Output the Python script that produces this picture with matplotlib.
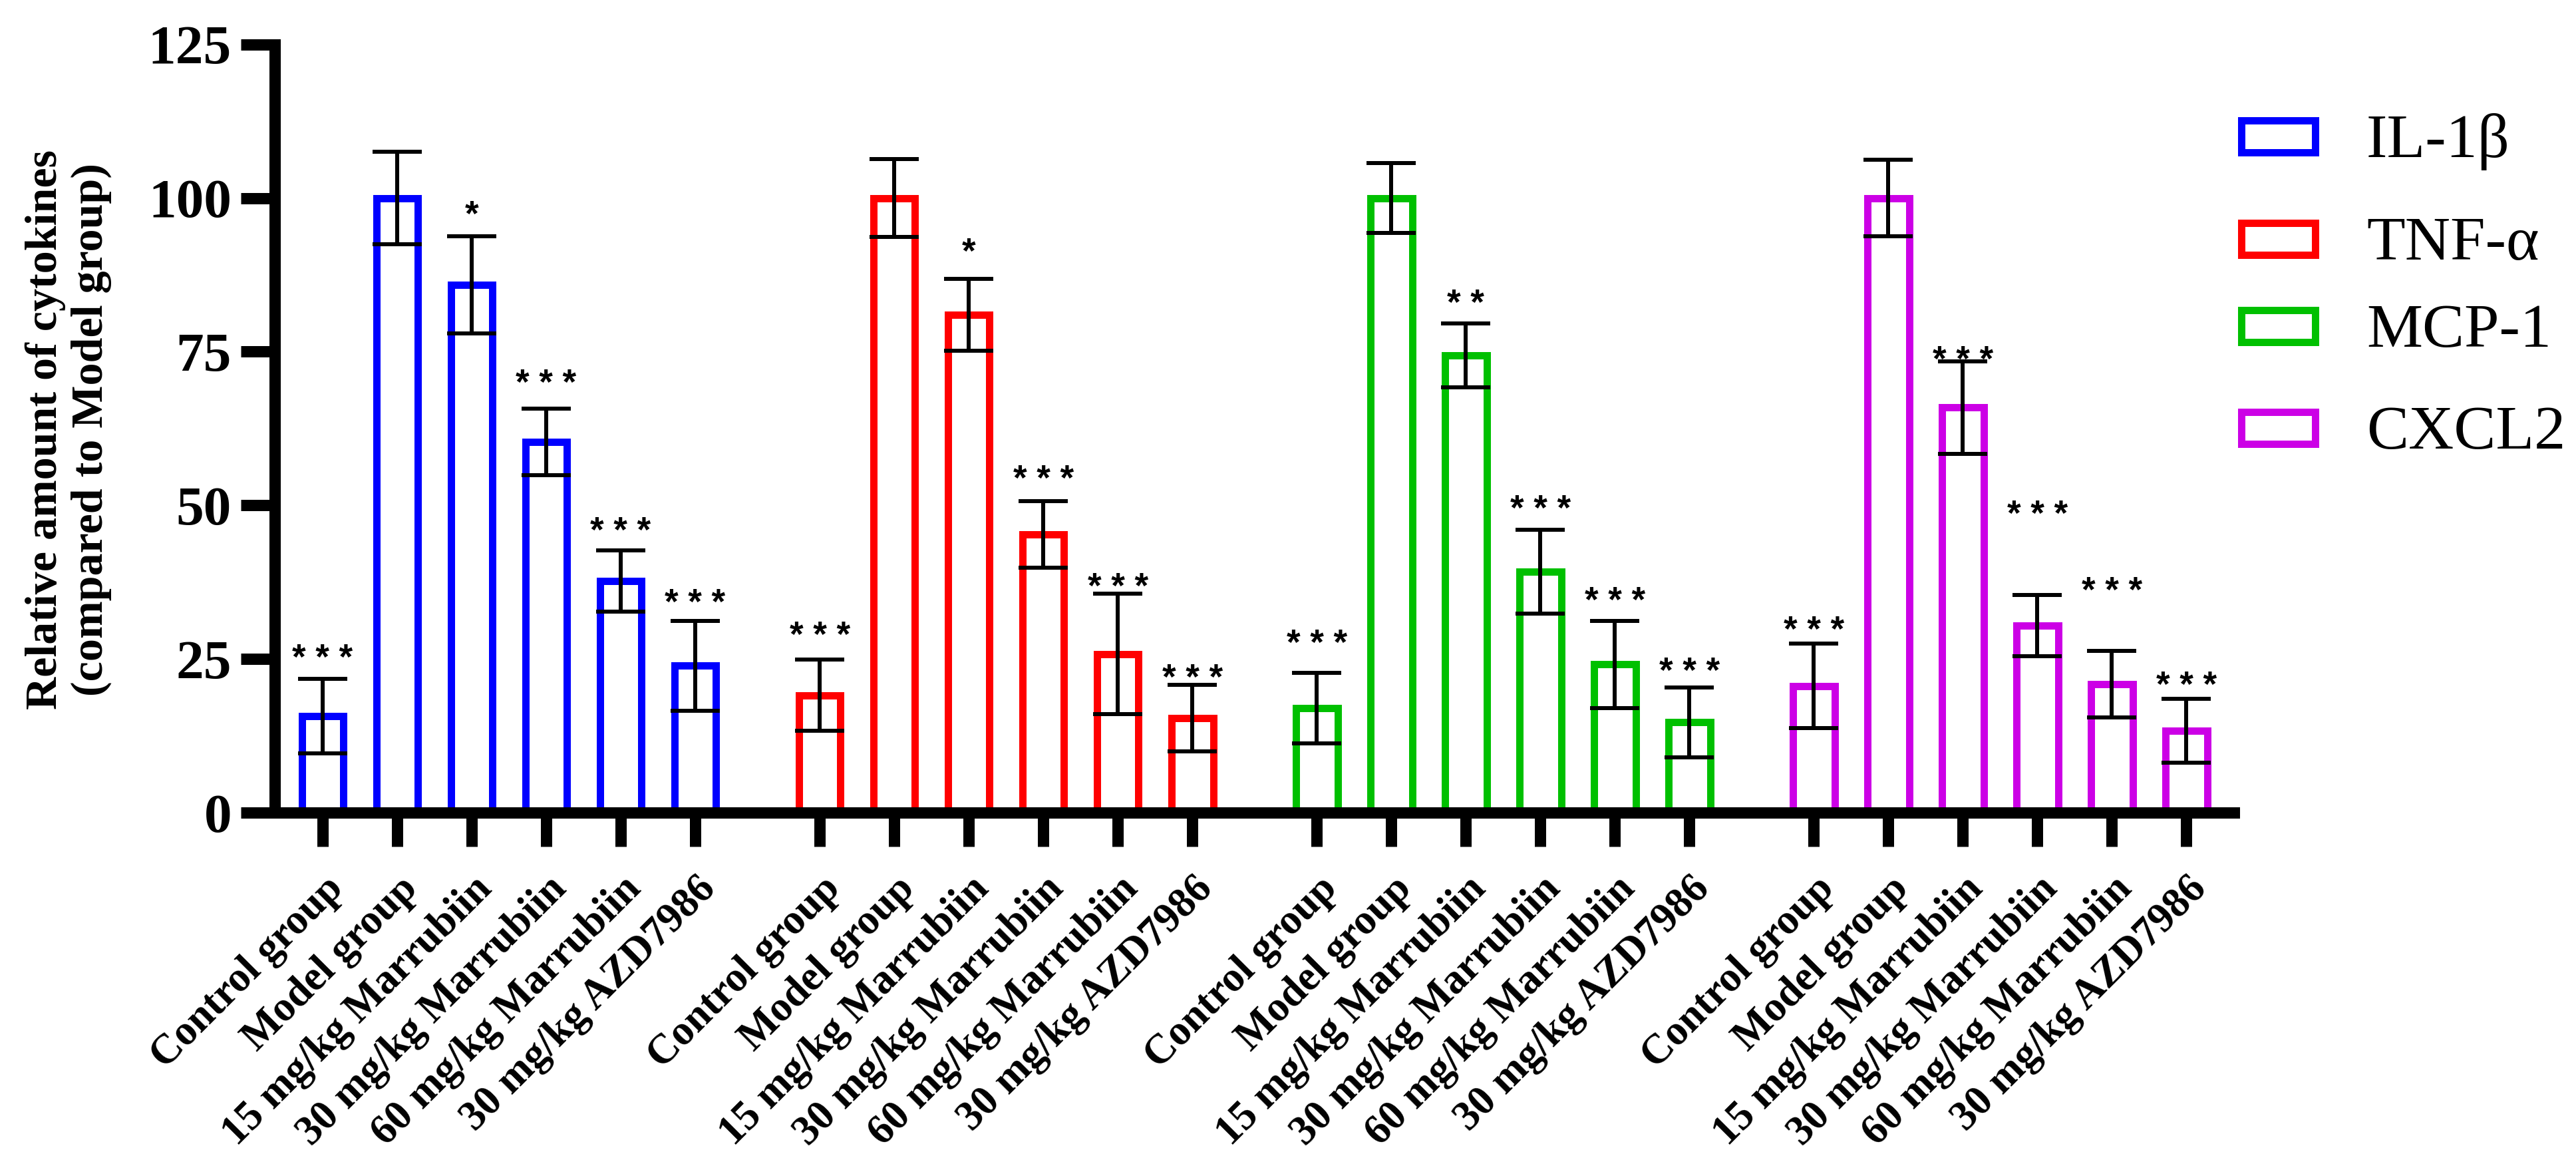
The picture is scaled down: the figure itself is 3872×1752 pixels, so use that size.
import numpy as np
import matplotlib
matplotlib.use("Agg")
import matplotlib.pyplot as plt
from matplotlib.patches import Rectangle
from matplotlib.transforms import ScaledTranslation

# ---------------- data ----------------
groups = ["Control group", "Model group", "15 mg/kg Marrubiin",
          "30 mg/kg Marrubiin", "60 mg/kg Marrubiin", "30 mg/kg AZD7986"]
series = ["IL-1\u03b2", "TNF-\u03b1", "MCP-1", "CXCL2"]

il1b_mean = [15.7, 100.0, 85.9, 60.3, 37.7, 23.9]
il1b_sd = [6.1, 7.5, 7.9, 5.4, 5.0, 7.3]
tnfa_mean = [19.1, 100.0, 81.0, 45.3, 25.8, 15.4]
tnfa_sd = [5.8, 6.3, 5.8, 5.4, 9.8, 5.4]
mcp1_mean = [17.0, 100.0, 74.4, 39.2, 24.1, 14.7]
mcp1_sd = [5.7, 5.7, 5.2, 6.8, 7.1, 5.7]
cxcl2_mean = [20.6, 100.0, 65.9, 30.4, 20.9, 13.3]
cxcl2_sd = [6.9, 6.2, 7.5, 5.0, 5.4, 5.2]

il1b_sig = ["***", "", "*", "***", "***", "***"]
tnfa_sig = ["***", "", "*", "***", "***", "***"]
mcp1_sig = ["***", "", "**", "***", "***", "***"]
cxcl2_sig = ["***", "", "***", "***", "***", "***"]

# height (data units) at which each significance mark is centred
il1b_sig_y = [26.8, None, 98.9, 71.5, 47.4, 35.7]
tnfa_sig_y = [30.4, None, 92.8, 55.9, 38.3, 23.5]
mcp1_sig_y = [29.1, None, 84.5, 51.0, 36.1, 24.6]
cxcl2_sig_y = [31.3, None, 75.3, 50.1, 37.7, 22.3]

yticks = [0, 25, 50, 75, 100, 125]
ylabel = "Relative amount of cytokines\n(compared to Model group)"

# ---------------- style ----------------
colors = ["#0000FF", "#FF0000", "#00C000", "#CC00E6"]
means = [il1b_mean, tnfa_mean, mcp1_mean, cxcl2_mean]
sds = [il1b_sd, tnfa_sd, mcp1_sd, cxcl2_sd]
sigs = [il1b_sig, tnfa_sig, mcp1_sig, cxcl2_sig]
sig_ys = [il1b_sig_y, tnfa_sig_y, mcp1_sig_y, cxcl2_sig_y]

DPI = 200
W, H = 3872, 1752
px = 72.0 / DPI  # points per pixel
SERIF = "Liberation Serif"
SANS = "Liberation Sans"

fig = plt.figure(figsize=(W / DPI, H / DPI), dpi=DPI)
ax = fig.add_axes([413 / W, 1 - 1221 / H, (3358 - 413) / W, (1221 - 66.7) / H])

group_step = 6.67
bar_w = 0.56
edge_lw = 11 * px
axis_lw = 17 * px

all_x = []
for gi, (m, s, sg, sy, c) in enumerate(zip(means, sds, sigs, sig_ys, colors)):
    x = gi * group_step + np.arange(len(groups))
    all_x.extend(x)
    ax.bar(x, m, width=bar_w, facecolor="white", edgecolor=c,
           linewidth=edge_lw, zorder=2, label=series[gi])
    ax.errorbar(x, m, yerr=s, fmt="none", ecolor="black",
                elinewidth=6 * px, capsize=37 * px, capthick=6 * px, zorder=3)
    off = ScaledTranslation(0, -31 / DPI, fig.dpi_scale_trans)
    for xi, lab, yv in zip(x, sg, sy):
        if lab and yv is not None:
            ax.text(xi, yv, " ".join(lab), ha="center", va="baseline",
                    fontsize=19, fontfamily=SANS, fontweight="bold",
                    transform=ax.transData + off, zorder=4)

ax.set_xlim(-0.643, 25.65)
ax.set_ylim(0, 125)
ax.set_yticks(yticks)
ax.set_yticklabels([str(t) for t in yticks], fontfamily=SERIF,
                   fontweight="bold", fontsize=30)
ax.set_xticks(all_x)
ax.set_xticklabels(groups * len(series), fontfamily=SERIF,
                   fontweight="bold", fontsize=22.5, rotation=45,
                   ha="right", va="center", rotation_mode="anchor")
ax.tick_params(axis="both", length=51 * px, width=axis_lw, direction="out",
               color="black")
ax.tick_params(axis="y", pad=14 * px)
ax.tick_params(axis="x", pad=55 * px)
shift = ScaledTranslation(22 / DPI, 0, fig.dpi_scale_trans)
for lbl in ax.get_xticklabels():
    lbl.set_transform(lbl.get_transform() + shift)

for side in ["top", "right"]:
    ax.spines[side].set_visible(False)
for side in ["left", "bottom"]:
    ax.spines[side].set_linewidth(axis_lw)
    ax.spines[side].set_capstyle("projecting")
    ax.spines[side].set_zorder(5)

fig.text(103 / W, 1 - 645 / H, ylabel, rotation=90, ha="center", va="center",
         multialignment="center", fontfamily=SERIF, fontweight="bold",
         fontsize=24.5, linespacing=1.15)

# legend (drawn manually to match spacing)
leg_rows = [205, 359, 490, 643]
for c, name, yc in zip(colors, series, leg_rows):
    r = Rectangle(((3368.5) / DPI, (H - yc - 23.5) / DPI), 112 / DPI, 47 / DPI,
                  transform=fig.dpi_scale_trans, facecolor="white",
                  edgecolor=c, linewidth=edge_lw)
    fig.add_artist(r)
    fig.text(3557 / W, 1 - (yc + 31) / H, name, ha="left", va="baseline",
             fontfamily=SERIF, fontsize=34)

fig.savefig("out.png", dpi=DPI)
